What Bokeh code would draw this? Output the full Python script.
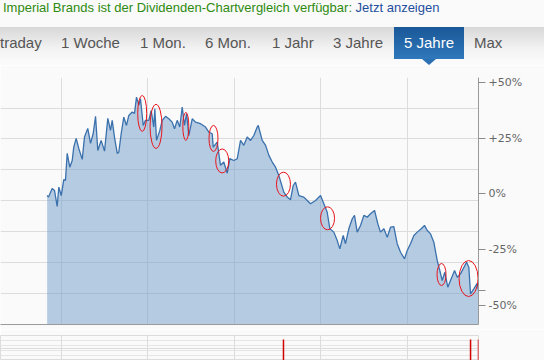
from bokeh.plotting import figure
from bokeh.models import ColumnDataSource, FixedTicker, Label, Div, Range1d, Grid
from bokeh.layouts import column
from bokeh.embed import file_html
from bokeh.resources import INLINE

# ---------------- data ----------------
jahr = [2013.834, 2013.850, 2013.892, 2013.919, 2013.950, 2013.969, 2013.997, 2014.027, 2014.046, 2014.066,
        2014.096, 2014.124, 2014.142, 2014.170, 2014.200, 2014.240, 2014.266, 2014.304, 2014.336, 2014.367,
        2014.394, 2014.420, 2014.459, 2014.498, 2014.536, 2014.567, 2014.587, 2014.613, 2014.645, 2014.663,
        2014.691, 2014.721, 2014.752, 2014.779, 2014.818, 2014.845, 2014.868, 2014.895, 2014.914, 2014.946,
        2014.972, 2015.010, 2015.038, 2015.068, 2015.080, 2015.100, 2015.138, 2015.166, 2015.204, 2015.242,
        2015.281, 2015.308, 2015.339, 2015.369, 2015.397, 2015.424, 2015.447, 2015.473, 2015.513, 2015.551,
        2015.609, 2015.667, 2015.705, 2015.744, 2015.756, 2015.802, 2015.840, 2015.878, 2015.918, 2015.948,
        2015.994, 2016.034, 2016.072, 2016.110, 2016.149, 2016.188, 2016.226, 2016.265, 2016.277, 2016.323,
        2016.362, 2016.400, 2016.439, 2016.477, 2016.515, 2016.573, 2016.612, 2016.650, 2016.682, 2016.708,
        2016.747, 2016.804, 2016.844, 2016.882, 2016.940, 2016.998, 2017.036, 2017.075, 2017.106, 2017.152,
        2017.191, 2017.221, 2017.260, 2017.287, 2017.325, 2017.365, 2017.391, 2017.422, 2017.461, 2017.499,
        2017.538, 2017.576, 2017.623, 2017.661, 2017.692, 2017.731, 2017.770, 2017.808, 2017.846, 2017.885,
        2017.924, 2017.970, 2018.001, 2018.039, 2018.078, 2018.117, 2018.163, 2018.201, 2018.233, 2018.271,
        2018.309, 2018.348, 2018.378, 2018.406, 2018.436, 2018.471, 2018.502, 2018.549, 2018.580, 2018.618,
        2018.688, 2018.714, 2018.734, 2018.772, 2018.811, 2018.826]
kurs_pct = [-0.7, -1.4, 2.5, 1.6, -5.6, 3.1, -0.7, 6.5, 6.1, 18.2,
            12.0, 15.0, 21.0, 24.9, 20.4, 15.5, 25.5, 29.4, 22.7, 27.1,
            34.8, 19.5, 24.0, 19.2, 33.9, 28.5, 33.0, 25.5, 18.2, 18.7,
            27.1, 34.4, 30.7, 35.2, 36.7, 36.1, 43.4, 39.7, 42.7, 30.7,
            33.0, 33.0, 37.4, 30.0, 38.2, 24.0, 28.5, 33.0, 34.8, 33.7,
            32.2, 29.2, 33.0, 30.0, 38.9, 30.7, 36.0, 26.2, 33.7, 32.2,
            31.5, 30.0, 27.7, 27.0, 21.0, 23.2, 12.8, 14.3, 9.3, 15.8,
            15.0, 15.8, 24.0, 21.8, 25.5, 24.0, 26.2, 30.0, 30.7, 24.0,
            21.8, 17.3, 14.3, 12.0, 8.3, 0.8, -1.4, -2.6, 3.8, 5.3,
            -0.7, -1.4, -2.9, -4.4, -2.9, -0.7, -4.4, -8.2, -15.6, -17.1,
            -20.9, -24.6, -18.6, -22.3, -15.6, -11.1, -9.6, -17.1, -14.1, -9.6,
            -10.4, -8.9, -7.4, -13.4, -17.1, -15.6, -19.4, -14.9, -14.6, -22.3,
            -26.1, -29.1, -25.3, -22.3, -18.6, -17.1, -15.6, -14.1, -16.4, -17.9,
            -21.6, -29.8, -34.3, -38.8, -35.1, -41.8, -38.8, -34.3, -37.3, -35.8,
            -30.6, -32.8, -44.8, -42.5, -40.0, -43.2]

y_ticks = [50, 25, 0, -25, -50]
y_tick_labels = ["+50%", "+25%", "0%", "-25%", "-50%"]
last_value = -43.2
last_label = "-43,2%"
grid_levels = [38.3, 24.7, 11.0, -2.9, -16.8, -30.7, -44.6]
year_lines = [2014, 2015, 2016, 2017, 2018]

# red circled spots
mark_x = [2014.934, 2015.094, 2015.439, 2015.759, 2015.860, 2016.569, 2017.079, 2018.398, 2018.711]
mark_y = [36.1, 30.3, 30.3, 24.9, 14.8, 4.4, -10.9, -36.1, -37.9]

dividend_dates = [2016.569, 2018.734, 2018.826]

banner_text = "Imperial Brands ist der Dividenden-Chartvergleich verfügbar: "
banner_link = "Jetzt anzeigen"
tabs = ["traday", "1 Woche", "1 Mon.", "6 Mon.", "1 Jahr", "3 Jahre", "5 Jahre", "Max"]
selected_tab = "5 Jahre"

# ---------------- header ----------------
tab_left = [0, 61, 140, 205, 272, 333, 394, 474]
parts = []
for name, left in zip(tabs, tab_left):
    if name == selected_tab:
        parts.append(
            f'<div style="position:absolute;left:{left}px;top:27px;width:70px;height:32px;'
            f'background:linear-gradient(#1a5898,#2f78bb);color:#fff;font-size:15px;'
            f'line-height:32px;text-align:center;">{name}</div>'
            f'<div style="position:absolute;left:{left + 28}px;top:59px;width:0;height:0;'
            f'border-left:7px solid transparent;border-right:7px solid transparent;'
            f'border-top:6px solid #2a70b2;"></div>')
    else:
        parts.append(
            f'<div style="position:absolute;left:{left}px;top:27px;height:32px;color:#555;'
            f'font-size:15px;line-height:32px;white-space:nowrap;">{name}</div>')

header_html = (
    '<div style="position:relative;width:544px;height:65px;overflow:hidden;background:#fafafa;'
    'font-family:\'Liberation Sans\',Arial,sans-serif;">'
    '<div style="position:absolute;left:0;top:27px;width:544px;height:32px;'
    'background:linear-gradient(#d8d8d8,#f3f3f3 70%,#f8f8f8);"></div>'
    f'<div style="position:absolute;left:3px;top:0px;font-size:13px;line-height:15px;color:#2e8a10;'
    f'white-space:nowrap;">{banner_text}<span style="color:#1f4f9e;">{banner_link}</span></div>'
    + "".join(parts) + '</div>')

header = Div(text=header_html, width=544, height=65, margin=(0, 0, 0, 0))

# ---------------- main chart ----------------
src = ColumnDataSource(dict(jahr=jahr, pct=kurs_pct))

p = figure(width=544, height=264, x_range=Range1d(2013.294, 2018.826), y_range=Range1d(-58.5, 52.2),
           output_backend="svg", toolbar_location=None, x_axis_location="below", y_axis_location="right",
           min_border_left=0, min_border_right=66, min_border_top=12, min_border_bottom=5,
           background_fill_color="#fafafa", border_fill_color="#fafafa", outline_line_color=None)

p.xgrid.ticker = FixedTicker(ticks=year_lines)
p.ygrid.ticker = FixedTicker(ticks=grid_levels)
p.grid.grid_line_color = "#dcdcdc"

p.xaxis.ticker = FixedTicker(ticks=[])
p.xaxis.major_tick_line_color = None
p.xaxis.minor_tick_line_color = None
p.xaxis.major_tick_out = 0
p.xaxis.major_label_standoff = 0
p.xaxis.axis_line_color = "#9a9a9a"

p.yaxis.ticker = FixedTicker(ticks=y_ticks + [last_value])
overrides = {t: l for t, l in zip(y_ticks, y_tick_labels)}
overrides[last_value] = ""
p.yaxis.major_label_overrides = overrides
p.yaxis.axis_line_color = "#9a9a9a"
p.yaxis.major_tick_line_color = "#8a8a8a"
p.yaxis.minor_tick_line_color = None
p.yaxis.major_tick_out = 7
p.yaxis.major_tick_in = 0
p.yaxis.major_label_standoff = 3
p.yaxis.major_label_text_font = "DejaVu Sans"
p.yaxis.major_label_text_font_size = "11px"
p.yaxis.major_label_text_color = "#666666"

p.varea(x="jahr", y1=-70, y2="pct", source=src, fill_color="#6f9cc9", fill_alpha=0.5)
p.line(x="jahr", y="pct", source=src, line_color="#3a71ad", line_width=1.3)

p.ellipse(x=mark_x, y=mark_y, width=[9, 12, 6, 9, 13, 14, 14, 9, 19], height=[36, 44, 28, 26, 24, 24, 23, 22, 36],
          width_units="screen", height_units="screen", fill_color=None, line_color="#e8141b", line_width=1)

p.add_layout(Label(x=jahr[-1], y=last_value, x_offset=9, text=last_label, text_color="#d40000",
                   text_font="DejaVu Sans", text_font_size="11px", text_baseline="middle"))

# ---------------- dividend strip ----------------
b = figure(width=544, height=31, x_range=p.x_range, y_range=Range1d(0, 1),
           output_backend="svg", toolbar_location=None, x_axis_location=None, y_axis_location=None,
           min_border_left=0, min_border_right=66, min_border_top=6, min_border_bottom=0,
           background_fill_color="#fafafa", border_fill_color="#fafafa", outline_line_color="#dcdcdc")
b.add_layout(Grid(dimension=0, ticker=FixedTicker(ticks=year_lines), grid_line_color="#dcdcdc"))
b.add_layout(Grid(dimension=1, ticker=FixedTicker(ticks=[0.48]), grid_line_color="#dcdcdc"))
b.segment(x0=dividend_dates, y0=0, x1=dividend_dates, y1=0.84, line_color="#d40000", line_width=1.5)

layout = column(header, p, b, spacing=0)
open("out.html", "w").write(file_html(layout, INLINE))
